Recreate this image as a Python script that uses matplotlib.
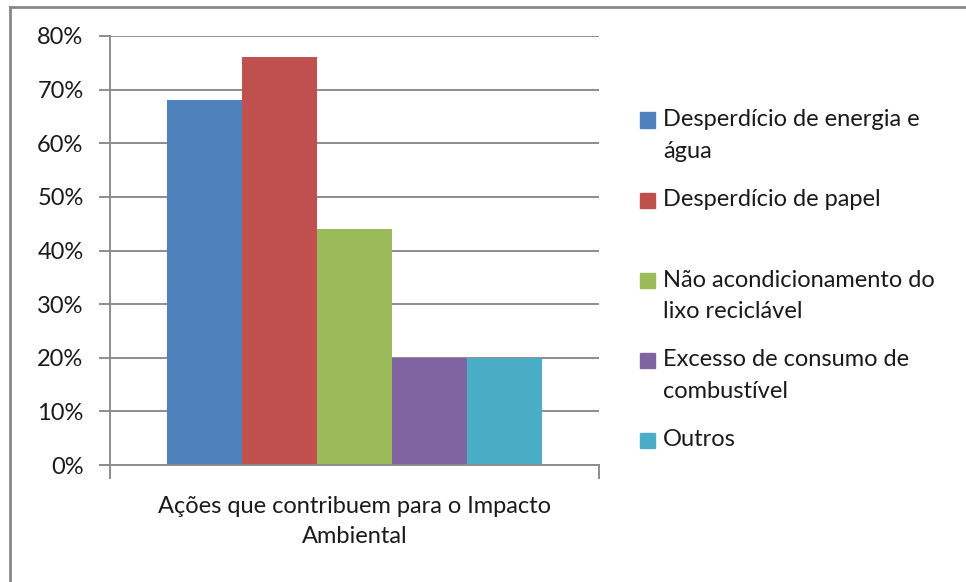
import matplotlib
matplotlib.use("Agg")
import matplotlib.pyplot as plt
from matplotlib.lines import Line2D
from matplotlib.patches import Rectangle

# dados
series = [
    "Desperdício de energia e\nágua",
    "Desperdício de papel",
    "Não acondicionamento do\nlixo reciclável",
    "Excesso de consumo de\ncombustível",
    "Outros",
]
values = [0.68, 0.76, 0.44, 0.20, 0.20]
colors = ["#4F81BD", "#C0504D", "#9BBB59", "#8064A2", "#4BACC6"]
category = "Ações que contribuem para o Impacto\nAmbiental"
yticks = [0, 0.1, 0.2, 0.3, 0.4, 0.5, 0.6, 0.7, 0.8]

plt.rcParams["font.family"] = ["Lato", "DejaVu Sans"]
W, H = 966, 582
fig = plt.figure(figsize=(W / 100, H / 100), dpi=100)
ax = fig.add_axes([110 / W, 1 - 465 / H, 489 / W, 429 / H])

grey = "#8C8C8C"
txt = "#1A1A1A"
fs = 17

# barras agrupadas numa única categoria
group = 0.765
bw = group / len(values)
for i, (v, c) in enumerate(zip(values, colors)):
    x = -group / 2 + bw * (i + 0.5)
    ax.bar(x, v, width=bw, color=c, zorder=2)

ax.set_xlim(-0.5, 0.5)
ax.set_ylim(0, 0.8)
ax.set_yticks(yticks, [f"{int(round(t * 100))}%" for t in yticks])
ax.yaxis.grid(True, color=grey, lw=1.4)
ax.set_axisbelow(True)

ax.set_xticks([0], [category])
ax.set_xticks([-0.5, 0.5], minor=True)
ax.tick_params(axis="x", which="major", length=0, pad=22, labelsize=fs, labelcolor=txt)
ax.tick_params(axis="x", which="minor", length=10, width=1.4, color=grey, direction="out")
ax.tick_params(axis="y", length=8, width=1.4, color=grey, pad=11, labelsize=fs, labelcolor=txt)
for t in ax.get_xticklabels():
    t.set_linespacing(1.55)

for s in ("top", "right"):
    ax.spines[s].set_visible(False)
for s in ("left", "bottom"):
    ax.spines[s].set_color(grey)
    ax.spines[s].set_linewidth(1.4)

# legenda manual (espaçamento do Excel)
first_line = [120, 200, 280, 360, 440]
for lab, c, y in zip(series, colors, first_line):
    fig.add_artist(Rectangle((640 / W, 1 - (y + 7.5) / H), 15 / W, 15 / H,
                             transform=fig.transFigure, color=c))
    for k, line in enumerate(lab.split("\n")):
        fig.text(663 / W, 1 - (y + 31 * k) / H, line, fontsize=fs,
                 color=txt, va="center", ha="left")

# moldura do gráfico
fig.add_artist(Line2D([10 / W, 10 / W], [0, 1 - 7 / H], color="#878787", lw=2))
fig.add_artist(Line2D([10 / W, 1], [1 - 7 / H, 1 - 7 / H], color="#878787", lw=2))

fig.savefig("out.png", dpi=100)
